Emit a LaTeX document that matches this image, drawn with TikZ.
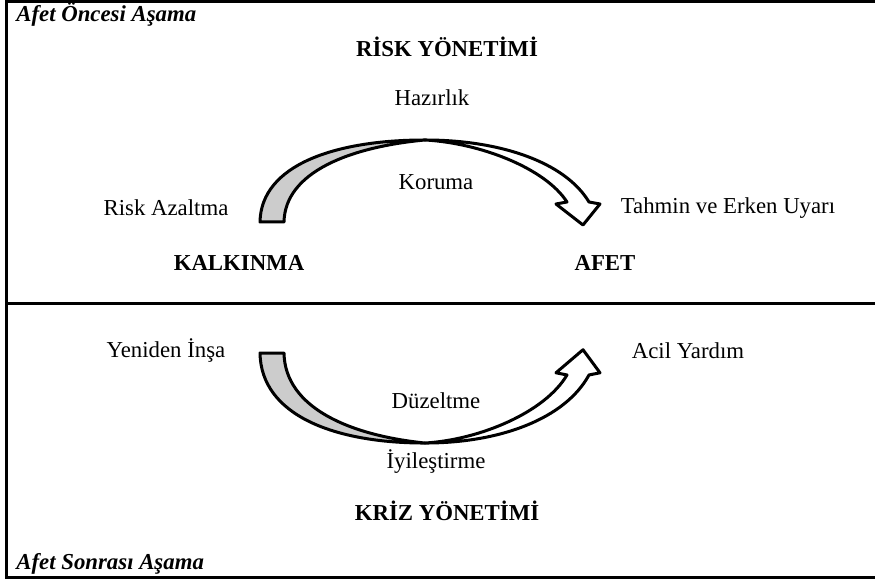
\documentclass[tikz,border=0pt]{standalone}
\usepackage{fontspec}
\setmainfont{Liberation Serif}
\usepackage{tikz}
\definecolor{arrow_grey}{RGB}{204,204,204}
\tikzstyle{lbl}=[font=\fontsize{11.4}{13}\selectfont,inner sep=0pt]
\tikzstyle{hd}=[font=\fontsize{11.4}{13}\selectfont\bfseries,inner sep=0pt]
\tikzstyle{phase}=[font=\fontsize{11.4}{13}\selectfont\bfseries\itshape,inner sep=0pt,anchor=west]
\tikzstyle{edge}=[line width=1.5pt,line join=round]
\newcommand{\bentarrow}{%
  \draw [style=edge,fill=arrow_grey] (260,222) .. controls (261,165) and (335,140) .. (425,140)
    .. controls (350,147) and (285,172) .. (284,222) -- cycle;
  \draw [style=edge,fill=white] (425,140) .. controls (500,140) and (565,162) .. (589,202)
    -- (600,204) -- (583,225) -- (556,204) -- (567,202)
    .. controls (545,168) and (480,143) .. (425,140) -- cycle;
}

\begin{document}
\begin{tikzpicture}[x=0.5pt,y=-0.5pt]
    \useasboundingbox (0,0) rectangle (875,581);
    % frame
    \draw [line width=1.5pt] (880,1.5) -| (6.5,578) -- (880,578);
    \draw [line width=1.5pt] (6.5,304) -- (880,304);
    % upper half
    \node [style=phase] (oncesi) at (16,14) {Afet Öncesi Aşama};
    \node [style=hd] (riskyon) at (447,47) {RİSK YÖNETİMİ};
    \node [style=lbl] (hazirlik) at (432,98) {Hazırlık};
    \node [style=lbl] (koruma) at (436,182) {Koruma};
    \node [style=lbl] (riskaz) at (166,208) {Risk Azaltma};
    \node [style=lbl] (tahmin) at (728,208) {Tahmin ve Erken Uyarı};
    \node [style=hd] (kalkinma) at (239,263) {KALKINMA};
    \node [style=hd] (afet) at (605,263) {AFET};
    \bentarrow
    % lower half
    \node [style=lbl] (yeniden) at (166,351) {Yeniden İnşa};
    \node [style=lbl] (acil) at (688,351) {Acil Yardım};
    \node [style=lbl] (duzeltme) at (436,401) {Düzeltme};
    \node [style=lbl] (iyilestirme) at (436,462) {İyileştirme};
    \node [style=hd] (krizyon) at (447,511) {KRİZ YÖNETİMİ};
    \node [style=phase] (sonrasi) at (16,564) {Afet Sonrası Aşama};
    \begin{scope}[shift={(0,596.7)},yscale=-1.0976]
      \bentarrow
    \end{scope}
  \end{tikzpicture}
\end{document}
